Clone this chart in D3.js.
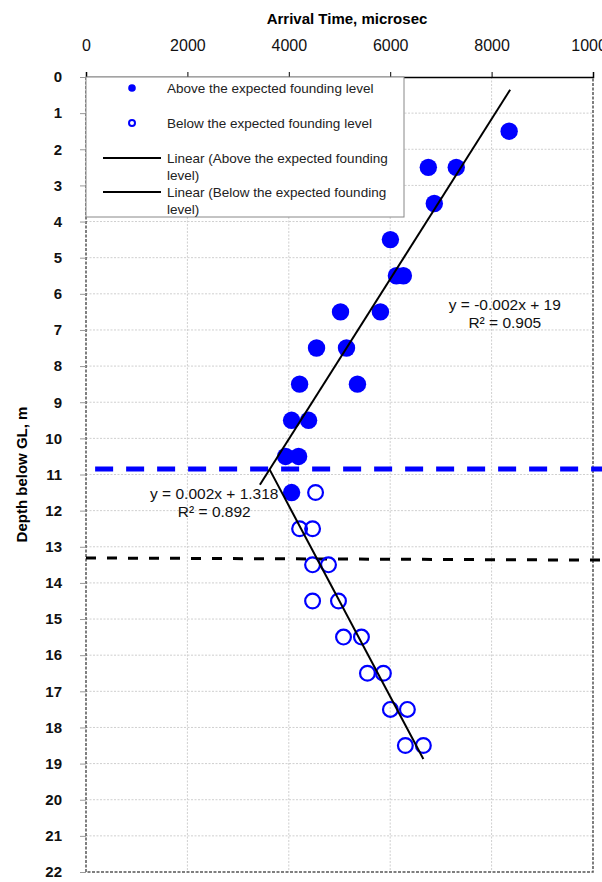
<!DOCTYPE html>
<html>
<head>
<meta charset="utf-8">
<script src="https://cdn.jsdelivr.net/npm/d3@7"></script>
<style>
  body { margin: 0; background: #fff; }
  svg { font-family: Arial, "Liberation Sans", sans-serif; }
</style>
</head>
<body>
<svg width="602" height="882"></svg>
<script>
// arrival time (microsec) and depth (m)
var aboveTime  = [8346, 6752, 7303, 6870, 6004, 6122, 6260, 5020, 5807, 4547, 5138, 4213, 5354, 4055, 4390, 3937, 4193, 4055];
var aboveDepth = [1.5, 2.5, 2.5, 3.5, 4.5, 5.5, 5.5, 6.5, 6.5, 7.5, 7.5, 8.5, 8.5, 9.5, 9.5, 10.5, 10.5, 11.5];
var belowTime  = [4528, 4213, 4469, 4469, 4783, 4469, 4980, 5079, 5433, 5551, 5866, 6004, 6339, 6299, 6654];
var belowDepth = [11.5, 12.5, 12.5, 13.5, 13.5, 14.5, 14.5, 15.5, 15.5, 16.5, 16.5, 17.5, 17.5, 18.5, 18.5];

// x range of each trendline
var aboveTrendRange = [3430, 8366];
var belowTrendRange = [3620, 6654];

var xTicks = [0, 2000, 4000, 6000, 8000, 10000];
var yTicks = d3.range(0, 23);

// founding level lines: depth at left and right end
var blueLevel  = [10.85, 10.85];
var blackLevel = [13.31, 13.37];

var svg = d3.select("svg");
var x = d3.scaleLinear().domain([0, 10000]).range([86, 593]);
var y = d3.scaleLinear().domain([0, 22]).range([77, 872]);

// least squares fit depth = a*time + b
function fit(xs, ys) {
	var mx = d3.mean(xs), my = d3.mean(ys);
	var sxy = d3.sum(xs, (v, i) => (v - mx) * (ys[i] - my));
	var sxx = d3.sum(xs, v => (v - mx) * (v - mx));
	var a = sxy / sxx;
	return { a: a, b: my - a * mx };
}

// grid
var grid = svg.append("g").attr("class", "grid")
	.attr("stroke", "#cfcfcf").attr("stroke-width", 1).attr("stroke-dasharray", "2,1.5");
grid.selectAll("line.v").data(xTicks.slice(1, -1)).enter().append("line")
	.attr("x1", d => x(d)).attr("x2", d => x(d))
	.attr("y1", y(0)).attr("y2", y(22));
grid.selectAll("line.h").data(yTicks.slice(1, -1)).enter().append("line")
	.attr("x1", x(0)).attr("x2", x(10000))
	.attr("y1", d => y(d)).attr("y2", d => y(d));

// plot border (dashed on left, right, bottom)
svg.append("path")
	.attr("d", `M${x(0)},${y(0)}V${y(22)}H${x(10000)}V${y(0)}`)
	.attr("fill", "none").attr("stroke", "#555").attr("stroke-width", 1.5)
	.attr("stroke-dasharray", "3,1.5");

// top axis
var xAxis = svg.append("g")
	.attr("transform", `translate(0,${y(0)})`)
	.call(d3.axisTop(x).tickValues(xTicks).tickSize(5).tickPadding(21).tickFormat(d3.format("d")));
xAxis.select(".domain").attr("stroke", "#000").attr("stroke-width", 1.5);
xAxis.selectAll("text").attr("font-size", 16).attr("fill", "#111")
	.attr("font-family", "Arial, 'Liberation Sans', sans-serif");

// left axis
var yAxis = svg.append("g")
	.attr("transform", `translate(${x(0)},0)`)
	.call(d3.axisLeft(y).tickValues(yTicks).tickSize(6).tickPadding(18));
yAxis.select(".domain").remove();
yAxis.selectAll(".tick line").attr("stroke", "#999");
yAxis.selectAll("text").attr("font-size", 15).attr("font-weight", "bold").attr("fill", "#111")
	.attr("font-family", "Arial, 'Liberation Sans', sans-serif");

// axis titles
svg.append("text")
	.attr("x", 347).attr("y", 24)
	.attr("text-anchor", "middle").attr("font-size", 15).attr("font-weight", "bold")
	.text("Arrival Time, microsec");
svg.append("text")
	.attr("transform", `translate(27,${(y(0) + y(22)) / 2}) rotate(-90)`)
	.attr("text-anchor", "middle").attr("font-size", 15).attr("font-weight", "bold")
	.text("Depth below  GL, m");

// founding levels
svg.append("line")
	.attr("x1", x(180)).attr("x2", x(10300))
	.attr("y1", y(blueLevel[0])).attr("y2", y(blueLevel[1]))
	.attr("stroke", "#0000ff").attr("stroke-width", 5).attr("stroke-dasharray", "18,13");
svg.append("line")
	.attr("x1", x(0)).attr("x2", x(10300))
	.attr("y1", y(blackLevel[0])).attr("y2", y(blackLevel[1]))
	.attr("stroke", "#000").attr("stroke-width", 3).attr("stroke-dasharray", "10,11");

// points
var above = aboveTime.map((t, i) => ({ t: t, d: aboveDepth[i] }));
var below = belowTime.map((t, i) => ({ t: t, d: belowDepth[i] }));

svg.append("g").selectAll("circle").data(above).enter().append("circle")
	.attr("cx", d => x(d.t)).attr("cy", d => y(d.d)).attr("r", 8.7)
	.attr("fill", "#0000ff");
svg.append("g").selectAll("circle").data(below).enter().append("circle")
	.attr("cx", d => x(d.t)).attr("cy", d => y(d.d)).attr("r", 7.4)
	.attr("fill", "none").attr("stroke", "#0000ff").attr("stroke-width", 2.2);

// trendlines
var fa = fit(aboveTime, aboveDepth);
var fb = fit(belowTime, belowDepth);
[[fa, aboveTrendRange], [fb, belowTrendRange]].forEach(function (p) {
	svg.append("line")
		.attr("x1", x(p[1][0])).attr("y1", y(p[0].a * p[1][0] + p[0].b))
		.attr("x2", x(p[1][1])).attr("y2", y(p[0].a * p[1][1] + p[0].b))
		.attr("stroke", "#000").attr("stroke-width", 2);
});

// equations
var eqs = [
	{ t: 8260, d: 6.3, lines: ["y = -0.002x + 19", "R\u00b2 = 0.905"] },
	{ t: 2530, d: 11.55, lines: ["y = 0.002x + 1.318", "R\u00b2 = 0.892"] }
];
eqs.forEach(function (e) {
	var tx = svg.append("text").attr("text-anchor", "middle").attr("font-size", 15.5).attr("fill", "#111");
	e.lines.forEach(function (l, i) {
		tx.append("tspan").attr("x", x(e.t)).attr("y", y(e.d) + 5 + i * 18).text(l);
	});
});

// legend
var lg = svg.append("g");
lg.append("rect")
	.attr("x", 86).attr("y", 77).attr("width", 318).attr("height", 140)
	.attr("fill", "#fff").attr("stroke", "#888").attr("stroke-width", 1);
var items = [
	{ kind: "dot", y: 88, text: ["Above the expected founding level"] },
	{ kind: "ring", y: 123, text: ["Below the expected founding level"] },
	{ kind: "line", y: 158, text: ["Linear (Above the expected founding", "level)"] },
	{ kind: "line", y: 192, text: ["Linear (Below the expected founding", "level)"] }
];
items.forEach(function (it) {
	if (it.kind === "dot") {
		lg.append("circle").attr("cx", 132).attr("cy", it.y).attr("r", 3.8).attr("fill", "#0000ff");
	} else if (it.kind === "ring") {
		lg.append("circle").attr("cx", 132).attr("cy", it.y).attr("r", 3)
			.attr("fill", "none").attr("stroke", "#0000ff").attr("stroke-width", 2);
	} else {
		lg.append("line").attr("x1", 103).attr("x2", 161).attr("y1", it.y).attr("y2", it.y)
			.attr("stroke", "#000").attr("stroke-width", 2);
	}
	var tx = lg.append("text").attr("font-size", 13.5).attr("fill", "#222");
	it.text.forEach(function (l, i) {
		tx.append("tspan").attr("x", 167).attr("y", it.y + 4.5 + i * 17).text(l);
	});
});
</script>
</body>
</html>
